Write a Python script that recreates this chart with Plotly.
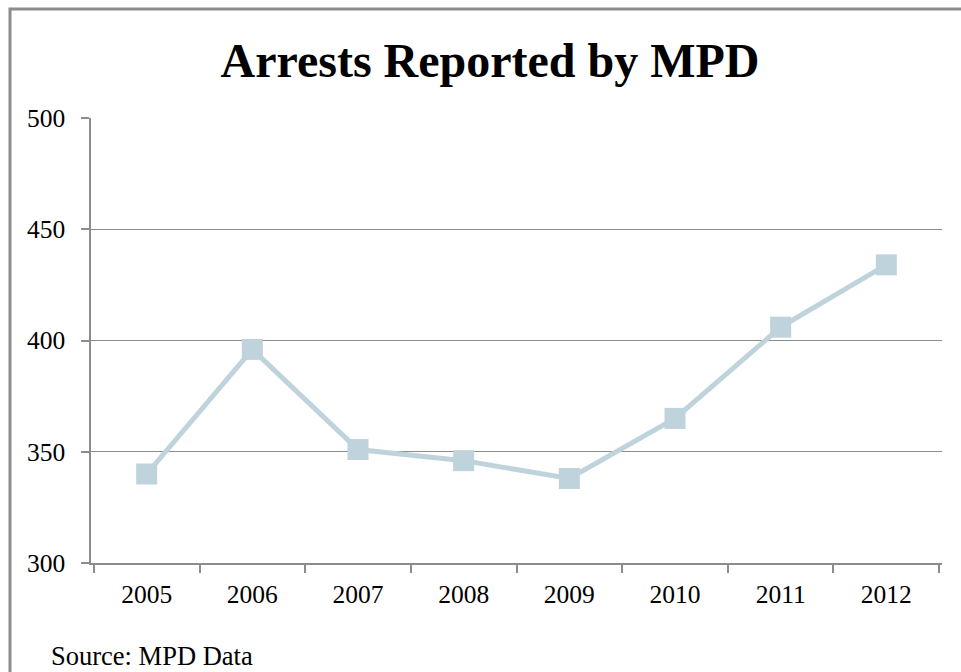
import plotly.graph_objects as go

years = ["2005", "2006", "2007", "2008", "2009", "2010", "2011", "2012"]
arrests = [340, 396, 351, 346, 338, 365, 406, 434]
y_ticks = [300, 350, 400, 450, 500]

title_text = "Arrests Reported by MPD"
source_text = "Source: MPD Data"

FONT = "Liberation Serif, Times New Roman, serif"

fig = go.Figure()
fig.add_trace(go.Scatter(
    x=years, y=arrests, mode="lines+markers",
    line=dict(color="#BED3DB", width=5),
    marker=dict(symbol="square", size=21, color="#BED3DB"),
    hoverinfo="x+y", showlegend=False,
))

fig.update_layout(
    width=961, height=672,
    margin=dict(l=91, r=19, t=118, b=109),
    paper_bgcolor="white", plot_bgcolor="white",
    font=dict(family=FONT, size=25, color="black"),
    title=dict(text="<b>" + title_text + "</b>", x=490 / 961, xanchor="center",
               y=1 - 60 / 672, yanchor="middle",
               font=dict(family=FONT, size=48, color="black")),
    xaxis=dict(type="category", showgrid=False, showline=True, linecolor="#8c8c8c",
               linewidth=1.5, ticks="outside", tickson="boundaries", ticklen=8,
               tickcolor="#8c8c8c", tickwidth=1.5, ticklabelstandoff=8,
               tickfont=dict(family=FONT, size=25.5, color="black")),
    yaxis=dict(range=[300, 500], tickvals=y_ticks, showgrid=True, gridcolor="#8c8c8c",
               gridwidth=1.2, showline=True, linecolor="#8c8c8c", linewidth=1.5,
               ticks="outside", ticklen=8, tickcolor="#8c8c8c", tickwidth=1.5,
               zeroline=False, ticklabelstandoff=11,
               tickfont=dict(family=FONT, size=25.5, color="black")),
    annotations=[dict(text=source_text, xref="paper", yref="paper",
                      x=(49 - 91) / 851, y=-(656 - 563) / 445,
                      xanchor="left", yanchor="middle", showarrow=False,
                      font=dict(family=FONT, size=26.5, color="black"))],
    shapes=[dict(type="rect", xref="paper", yref="paper",
                 x0=(10 - 91) / 851, x1=1.2, y0=-0.4, y1=1 + (118 - 9) / 445,
                 line=dict(color="#8c8c8c", width=3), layer="below")],
)

fig.write_html("out.html")
